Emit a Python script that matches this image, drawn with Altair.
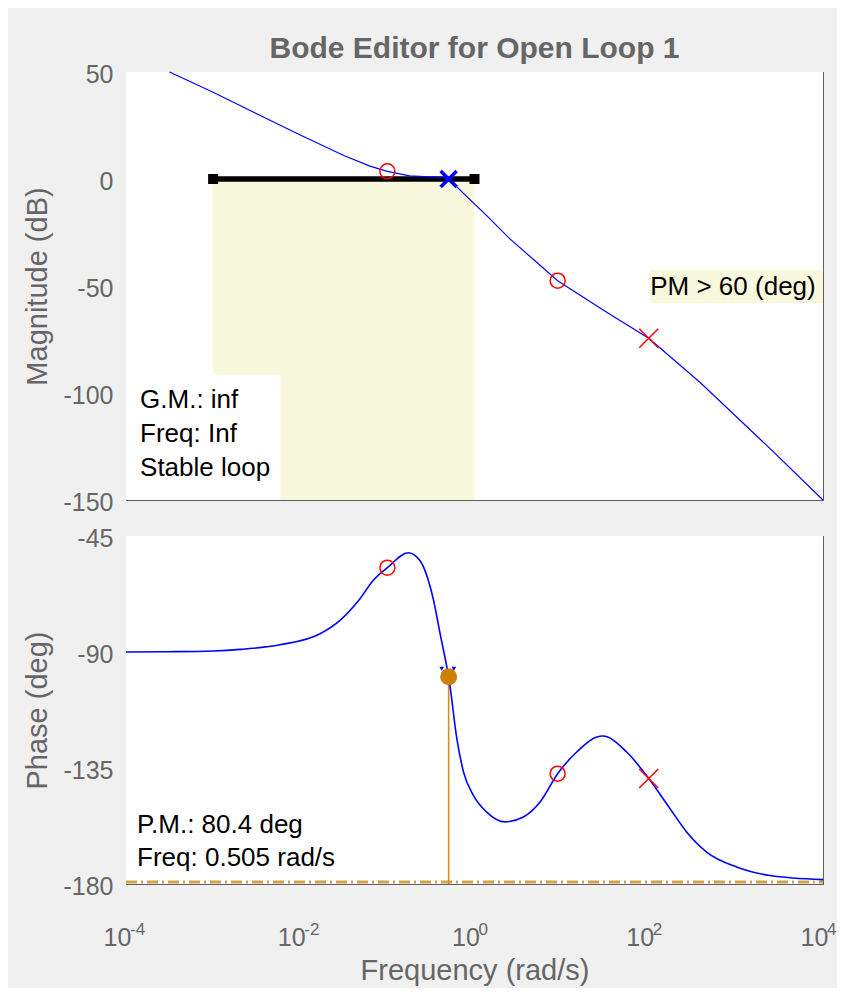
import altair as alt
import pandas as pd

# ---------------- text ----------------
TITLE = "Bode Editor for Open Loop 1"
MAG_TITLE = "Magnitude (dB)"
PHASE_TITLE = "Phase (deg)"
FREQ_TITLE = "Frequency (rad/s)"
gm_lines = ["G.M.: inf", "Freq: Inf", "Stable loop"]
pm_lines = ["P.M.: 80.4 deg", "Freq: 0.505 rad/s"]
req_label = "PM > 60 (deg)"

# ---------------- data ----------------
mag_freq = [0.000316, 0.001, 0.00316, 0.01, 0.0316, 0.0631, 0.1, 0.18, 0.3, 0.42, 0.505,
            1.38, 2.55, 5.17, 9.0, 32.9, 100.0, 392.0, 2260.0, 10000.0]
mag_db = [50.0, 40.5, 30.5, 20.6, 11.0, 6.0, 3.6, 1.5, 1.0, 0.8, 0.0,
          -17.1, -28.0, -38.9, -47.5, -62.3, -74.4, -95.2, -124.5, -150.0]

ph_freq = [0.0001, 0.0003, 0.001, 0.00204, 0.00586, 0.0169, 0.0286, 0.0485, 0.0689, 0.1,
           0.174, 0.207, 0.259, 0.339, 0.403, 0.481, 0.505, 0.627, 0.746, 0.971, 1.38,
           2.24, 3.64, 5.66, 9.0, 14.9, 25.3, 29.6, 55.8, 100.0, 175.0, 272.0, 462.0,
           1020.0, 2460.0, 10000.0]
ph_deg = [-90.0, -89.9, -89.6, -89.0, -87.2, -82.9, -77.7, -69.3, -62.2, -57.3,
          -51.5, -52.5, -56.9, -70.0, -82.9, -95.7, -99.6, -123.6, -136.4, -145.6, -152.1,
          -155.9, -154.0, -148.2, -137.2, -128.8, -123.0, -122.6, -128.8, -139.1, -150.7,
          -159.8, -167.6, -173.4, -176.7, -178.3]

zero_freq = [0.1, 9.0]
zero_mag = [3.6, -47.5]
zero_phase = [-57.3, -137.2]
pole_freq = [100.0]
pole_mag = [-74.4]
pole_phase = [-139.1]

wc = [0.505]          # gain crossover (rad/s)
wc_mag = [0.0]
pm_phase = [-99.6]    # -180 + 80.4
pm_arrow_freq = [0.42, 0.58]
pm_arrow_phase = [-96.5, -96.5]
req_freq = [0.001, 1.0]
req_db = [0.0]

x_ticks = [1e-4, 1e-2, 1.0, 1e2, 1e4]
x_tick_base = "10"
x_tick_exps = ["-4", "-2", "0", "2", "4"]
mag_ticks = [-150, -100, -50, 0, 50]
phase_ticks = [-180, -135, -90, -45]

# ---------------- style ----------------
FONT = "Liberation Sans"
GRAY = "#666666"
BOX = "#5f5f5f"
YELLOW = "#f8f8dc"
BLUE = "#0000ff"
RED = "#ff0000"
ORANGE = "#d98c1c"
MARK_ORANGE = "#cc7f00"
TAN = "#d6a048"
W, H1, H2 = 697, 428, 348
XSHAPE = "M-1,-1L1,1M-1,1L1,-1"

xs = alt.Scale(type="log", domain=[x_ticks[0], x_ticks[-1]], nice=False)
ys1 = alt.Scale(domain=[mag_ticks[0], mag_ticks[-1]], nice=False, zero=False)
ys2 = alt.Scale(domain=[phase_ticks[0], phase_ticks[-1]], nice=False, zero=False)


def tick_axis(orient, values, offset):
    return alt.Axis(orient=orient, offset=offset, values=values, labels=False,
                    domain=True, domainColor=BOX, domainWidth=1,
                    ticks=True, tickSize=7, tickColor=BOX, tickWidth=1,
                    grid=False, title="")


def y_label_axis(values, title):
    return alt.Axis(orient="left", values=values, ticks=False, domain=False, grid=False,
                    labelExpr="toString(datum.value)", labelOffset=2,
                    labelFont=FONT, labelFontSize=25, labelColor=GRAY, labelPadding=13,
                    title=title, titleFont=FONT, titleFontSize=29, titleColor=GRAY,
                    titleFontWeight="normal", titlePadding=10)


x_label_axis = alt.Axis(orient="bottom", values=x_ticks, labelExpr=f"'{x_tick_base}'",
                        ticks=False, domain=False, grid=False, labelFlush=False,
                        labelOffset=-9, labelFont=FONT, labelFontSize=25, labelColor=GRAY,
                        labelPadding=41, title=FREQ_TITLE, titleFont=FONT, titleFontSize=29,
                        titleColor=GRAY, titleFontWeight="normal", titlePadding=6)

one = pd.DataFrame({"k": [0]})


def X(field="freq", axis=None):
    return alt.X(f"{field}:Q", scale=xs, axis=axis)


def Y(scale, field="val", axis=None):
    return alt.Y(f"{field}:Q", scale=scale, axis=axis)


def XD(v):
    return alt.XDatum(v, type="quantitative", scale=xs, axis=None)


def YD(v, scale):
    return alt.YDatum(v, type="quantitative", scale=scale, axis=None)


def plot_bg(scale, ticks):
    return alt.Chart(one).mark_rect(color="white").encode(
        x=XD(x_ticks[0]), x2=alt.X2Datum(x_ticks[-1]),
        y=YD(ticks[0], scale), y2=alt.Y2Datum(ticks[-1]))


mag_df = pd.DataFrame({"freq": mag_freq, "val": mag_db})
ph_df = pd.DataFrame({"freq": ph_freq, "val": ph_deg})
zm_df = pd.DataFrame({"freq": zero_freq, "val": zero_mag})
zp_df = pd.DataFrame({"freq": zero_freq, "val": zero_phase})
pm_df = pd.DataFrame({"freq": pole_freq, "val": pole_mag})
pp_df = pd.DataFrame({"freq": pole_freq, "val": pole_phase})
wc_df = pd.DataFrame({"freq": wc, "val": wc_mag})
pmk_df = pd.DataFrame({"freq": wc, "val": pm_phase, "floor": [phase_ticks[0]]})
arr_df = pd.DataFrame({"freq": pm_arrow_freq, "val": pm_arrow_phase})
req_df = pd.DataFrame({"f1": [req_freq[0]], "f2": [req_freq[1]],
                       "val": req_db, "bottom": [mag_ticks[0]]})
req_ends = pd.DataFrame({"freq": req_freq, "val": req_db * 2})
exp_df = pd.DataFrame({"freq": x_ticks, "exp": x_tick_exps})

# ---------------- magnitude panel ----------------
bg1 = plot_bg(ys1, mag_ticks)
band = alt.Chart(req_df).mark_rect(color=YELLOW).encode(
    x=X("f1"), x2="f2:Q", y=Y(ys1), y2="bottom:Q")
gm_box = alt.Chart(one).mark_rect(color="white").encode(
    x=XD(0.0001), x2=alt.X2Datum(0.0059), y=YD(-150, ys1), y2=alt.Y2Datum(-91.3))
gm_text = alt.Chart(one).mark_text(text=gm_lines, align="left", baseline="middle",
                                   lineHeight=34, font=FONT, fontSize=26, color="black").encode(
    x=XD(0.000145), y=YD(-103.3, ys1))
req_box = alt.Chart(one).mark_rect(color=YELLOW).encode(
    x=XD(103), x2=alt.X2Datum(10000), y=YD(-42.4, ys1), y2=alt.Y2Datum(-58.0))
req_text = alt.Chart(one).mark_text(text=req_label, align="left", baseline="middle",
                                    font=FONT, fontSize=26, color="black").encode(
    x=XD(104), y=YD(-50.4, ys1))
bar = alt.Chart(req_df).mark_rule(color="black", strokeWidth=5.5).encode(
    x=X("f1"), x2="f2:Q", y=Y(ys1))
bar_ends = alt.Chart(req_ends).mark_point(shape="square", filled=True, color="black",
                                          size=100, opacity=1).encode(x=X(), y=Y(ys1))
mag_line = alt.Chart(mag_df).mark_line(color=BLUE, strokeWidth=1.2).encode(
    x=X(), y=Y(ys1, axis=y_label_axis(mag_ticks, MAG_TITLE)))
mag_ax1 = alt.Chart(mag_df).mark_point(opacity=0).encode(
    x=X(axis=tick_axis("top", x_ticks, -H1)), y=Y(ys1, axis=tick_axis("right", mag_ticks, -W)))
mag_ax2 = alt.Chart(mag_df).mark_point(opacity=0).encode(
    x=X(axis=tick_axis("bottom", x_ticks, -H1)), y=Y(ys1, axis=tick_axis("left", mag_ticks, -W)))
mz = alt.Chart(zm_df).mark_point(shape="circle", filled=False, color=RED, size=225,
                                 strokeWidth=1.5, opacity=1).encode(x=X(), y=Y(ys1))
mp = alt.Chart(pm_df).mark_point(shape=XSHAPE, filled=False, color=RED, size=361,
                                 strokeWidth=1.5, opacity=1).encode(x=X(), y=Y(ys1))
mx = alt.Chart(wc_df).mark_point(shape=XSHAPE, filled=False, color=BLUE, size=256,
                                 strokeWidth=3.5, opacity=1).encode(x=X(), y=Y(ys1))

top = alt.layer(bg1, band, gm_box, gm_text, req_box, req_text, bar, bar_ends, mag_line,
                mag_ax1, mag_ax2, mz, mp, mx).resolve_axis(
    x="independent", y="independent").properties(
    width=W, height=H1,
    title=alt.TitleParams(TITLE, font=FONT, fontSize=30, fontWeight="bold", color=GRAY,
                          anchor="middle", frame="group", offset=-2))

# ---------------- phase panel ----------------
bg2 = plot_bg(ys2, phase_ticks)
dashdot = alt.Chart(one).mark_rule(color=TAN, strokeWidth=3, strokeDash=[11, 4, 2, 4],
                                   yOffset=-2).encode(
    x=XD(x_ticks[0]), x2=alt.X2Datum(x_ticks[-1]), y=YD(phase_ticks[0], ys2))
pm_rule = alt.Chart(pmk_df).mark_rule(color=ORANGE, strokeWidth=1.6).encode(
    x=X(), y=Y(ys2), y2="floor:Q")
ph_line = alt.Chart(ph_df).mark_line(color=BLUE, strokeWidth=1.6, interpolate="monotone").encode(
    x=X(axis=x_label_axis), y=Y(ys2, axis=y_label_axis(phase_ticks, PHASE_TITLE)))
ph_ax1 = alt.Chart(ph_df).mark_point(opacity=0).encode(
    x=X(axis=tick_axis("top", x_ticks, -H2)), y=Y(ys2, axis=tick_axis("right", phase_ticks, -W)))
ph_ax2 = alt.Chart(ph_df).mark_point(opacity=0).encode(
    x=X(axis=tick_axis("bottom", x_ticks, -H2)), y=Y(ys2, axis=tick_axis("left", phase_ticks, -W)))
pm_text = alt.Chart(one).mark_text(text=pm_lines, align="left", baseline="middle",
                                   lineHeight=33, font=FONT, fontSize=26, color="black").encode(
    x=XD(0.000134), y=YD(-157.0, ys2))
arrows = alt.Chart(arr_df).mark_point(shape="triangle-down", filled=True, color=BLUE,
                                      size=22, opacity=1).encode(x=X(), y=Y(ys2))
pm_dot = alt.Chart(pmk_df).mark_point(shape="circle", filled=True, color=MARK_ORANGE,
                                      size=289, opacity=1).encode(x=X(), y=Y(ys2))
pz = alt.Chart(zp_df).mark_point(shape="circle", filled=False, color=RED, size=225,
                                 strokeWidth=1.5, opacity=1).encode(x=X(), y=Y(ys2))
pp = alt.Chart(pp_df).mark_point(shape=XSHAPE, filled=False, color=RED, size=361,
                                 strokeWidth=1.5, opacity=1).encode(x=X(), y=Y(ys2))
exps = alt.Chart(exp_df).mark_text(align="left", baseline="alphabetic", dx=4, font=FONT,
                                   fontSize=17, color=GRAY).encode(
    x=X(), y=alt.value(H2 + 51), text="exp:N")

bottom = alt.layer(bg2, dashdot, pm_rule, ph_line, pm_text, arrows, pm_dot, pz, pp, exps,
                   ph_ax1, ph_ax2).resolve_axis(
    x="independent", y="independent").properties(width=W, height=H2)

chart = alt.vconcat(top, bottom, spacing=36, bounds="flush").properties(
    background="#f0f0f0",
    padding={"left": 15, "top": 25, "right": 0, "bottom": 2},
).configure_view(fill="white", stroke=BOX, strokeWidth=1).configure(font=FONT)

chart.save("out.html", embed_options={"renderer": "svg", "actions": False})
